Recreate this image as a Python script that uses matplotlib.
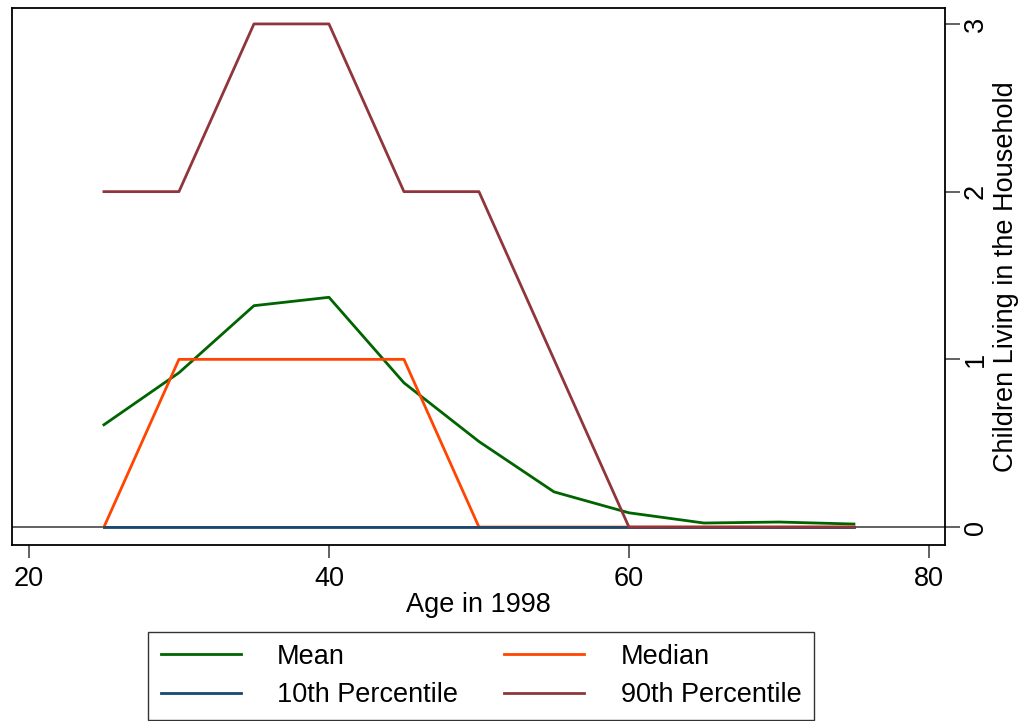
import matplotlib.pyplot as plt

plt.rcParams['font.family'] = ['Liberation Sans', 'DejaVu Sans']

# Data
age = [25, 30, 35, 40, 45, 50, 55, 60, 65, 70, 75]
mean_kids = [0.61, 0.92, 1.32, 1.37, 0.86, 0.51, 0.21, 0.085, 0.024, 0.03, 0.018]
median_kids = [0, 1, 1, 1, 1, 0, 0, 0, 0, 0, 0]
p10_kids = [0, 0, 0, 0, 0, 0, 0, 0, 0, 0, 0]
p90_kids = [2, 2, 3, 3, 2, 2, 1, 0, 0, 0, 0]

fs = 19.5

fig = plt.figure(figsize=(10.22, 7.21), dpi=100)
ax = fig.add_axes([12/1022, 176/721, 933/1022, 537/721])

ax.axhline(0, color='#555555', lw=1.3, zorder=1)
h_mean, = ax.plot(age, mean_kids, color='#006400', lw=2, label='Mean')
h_med, = ax.plot(age, median_kids, color='#ff4500', lw=2, label='Median')
h_p10, = ax.plot(age, p10_kids, color='#1a476f', lw=2, label='10th Percentile')
h_p90, = ax.plot(age, p90_kids, color='#90353b', lw=2, label='90th Percentile')

ax.set_xlim(18.87, 81.07)
ax.set_ylim(-0.107, 3.095)
ax.set_xticks([20, 40, 60, 80])
ax.set_yticks([0, 1, 2, 3])

ax.yaxis.tick_right()
ax.yaxis.set_label_position('right')
ax.tick_params(axis='x', length=9, width=1.3, color='#555555', labelsize=fs, pad=6)
ax.tick_params(axis='y', length=11, width=1.3, color='#555555', labelsize=fs,
               labelrotation=90, pad=2)
for lbl in ax.get_yticklabels():
    lbl.set_va('center')

for s in ax.spines.values():
    s.set_linewidth(1.3)

ax.set_xlabel('Age in 1998', fontsize=fs, labelpad=0)
ax.set_ylabel('Children Living in the Household', fontsize=fs)
ax.yaxis.set_label_coords((993 - 12) / 933, 0.5)

# row-wise order like the original: Mean, Median / 10th, 90th
fig.legend([h_mean, h_p10, h_med, h_p90],
           ['Mean', '10th Percentile', 'Median', '90th Percentile'],
           loc='center', bbox_to_anchor=(481/1022, 1 - 676/721), ncol=2,
           fontsize=fs, frameon=True, fancybox=False, edgecolor='black',
           handlelength=2.95, handletextpad=1.35, columnspacing=1.7,
           borderpad=0.45, labelspacing=0.45)

fig.savefig('out.png', dpi=100)
